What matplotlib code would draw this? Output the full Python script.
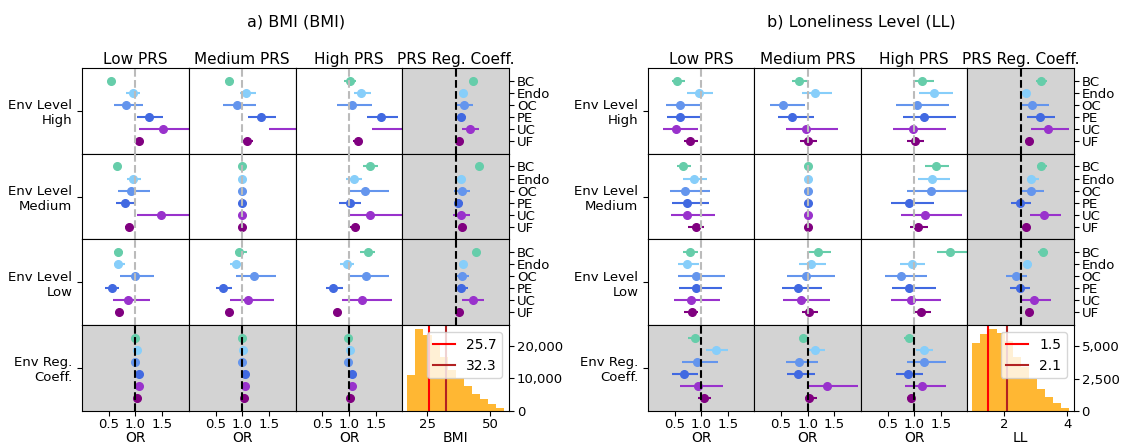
import numpy as np
import matplotlib
matplotlib.use('Agg')
import matplotlib.pyplot as plt
from matplotlib.ticker import MaxNLocator, StrMethodFormatter

categories = ['BC', 'Endo', 'OC', 'PE', 'UC', 'UF']
cat_colors = ['mediumaquamarine', 'lightskyblue', 'cornflowerblue', 'royalblue', 'darkorchid', 'purple']
row_labels = ['Env Level\nHigh', 'Env Level\nMedium', 'Env Level\nLow', 'Env Reg.\nCoeff.']
col_titles = ['Low PRS', 'Medium PRS', 'High PRS', 'PRS Reg. Coeff.']

# odds ratios [env row][prs column][category]; last row has no PRS Reg. Coeff. column
bmi_or = [
    [[0.54, 0.95, 0.82, 1.26, 1.51, 1.06],
     [0.75, 1.07, 0.90, 1.35, 2.30, 1.09],
     [1.01, 1.23, 1.06, 1.60, 2.40, 1.16],
     [1.33, 1.13, 1.16, 1.10, 1.27, 1.06]],
    [[0.66, 0.96, 0.92, 0.80, 1.48, 0.88],
     [1.00, 1.00, 1.00, 1.00, 1.00, 1.00],
     [1.40, 1.09, 1.30, 1.01, 1.40, 1.12],
     [1.43, 1.10, 1.11, 1.05, 1.10, 1.12]],
    [[0.68, 0.67, 0.99, 0.57, 0.86, 0.70],
     [0.94, 0.88, 1.22, 0.64, 1.10, 0.75],
     [1.35, 0.96, 1.31, 0.70, 1.25, 0.78],
     [1.38, 1.14, 1.11, 1.09, 1.32, 1.06]],
    [[0.99, 1.02, 0.99, 1.06, 1.06, 1.03],
     [0.99, 1.02, 0.99, 1.06, 1.06, 1.03],
     [0.98, 1.01, 0.99, 1.06, 1.06, 1.02]],
]
bmi_lo = [
    [[0.49, 0.83, 0.59, 1.02, 1.06, 0.98],
     [0.68, 0.95, 0.64, 1.10, 1.51, 1.01],
     [0.90, 1.09, 0.78, 1.33, 1.44, 1.07],
     [1.28, 1.06, 1.01, 1.03, 1.12, 1.02]],
    [[0.60, 0.85, 0.67, 0.64, 1.03, 0.80],
     [1.00, 1.00, 1.00, 1.00, 1.00, 1.00],
     [1.26, 0.95, 0.98, 0.81, 0.98, 1.02],
     [1.37, 1.04, 0.97, 0.96, 0.95, 1.07]],
    [[0.60, 0.59, 0.72, 0.43, 0.58, 0.64],
     [0.87, 0.77, 0.89, 0.51, 0.77, 0.69],
     [1.21, 0.84, 0.99, 0.56, 0.86, 0.72],
     [1.34, 1.07, 0.99, 1.00, 1.12, 1.01]],
    [[0.97, 1.00, 0.97, 1.04, 1.04, 1.01],
     [0.97, 1.00, 0.97, 1.04, 1.04, 1.01],
     [0.96, 0.99, 0.97, 1.04, 1.04, 1.00]],
]
bmi_hi = [
    [[0.60, 1.09, 1.14, 1.51, 2.60, 1.14],
     [0.84, 1.25, 1.25, 1.63, 3.20, 1.20],
     [1.13, 1.41, 1.44, 1.92, 3.50, 1.25],
     [1.40, 1.20, 1.33, 1.19, 1.43, 1.10]],
    [[0.73, 1.11, 1.27, 0.98, 2.40, 0.95],
     [1.00, 1.00, 1.00, 1.00, 1.00, 1.00],
     [1.55, 1.24, 1.75, 1.22, 2.30, 1.20],
     [1.48, 1.17, 1.26, 1.14, 1.27, 1.17]],
    [[0.77, 0.80, 1.34, 0.70, 1.27, 0.77],
     [1.09, 1.01, 1.64, 0.80, 1.59, 0.81],
     [1.49, 1.10, 1.75, 0.88, 1.80, 0.85],
     [1.43, 1.20, 1.25, 1.22, 1.52, 1.11]],
    [[1.01, 1.04, 1.01, 1.08, 1.08, 1.05],
     [1.01, 1.04, 1.01, 1.08, 1.08, 1.05],
     [1.00, 1.03, 1.01, 1.08, 1.08, 1.04]],
]

ll_or = [
    [[0.55, 0.96, 0.60, 0.60, 0.52, 0.79],
     [0.83, 1.14, 0.54, 0.71, 0.96, 1.00],
     [1.15, 1.38, 1.06, 1.19, 0.98, 1.02],
     [1.38, 1.10, 1.22, 1.36, 1.52, 1.15]],
    [[0.66, 0.86, 0.70, 0.73, 0.73, 0.90],
     [1.00, 1.00, 1.00, 1.00, 1.00, 1.00],
     [1.41, 1.34, 1.32, 0.90, 1.21, 1.08],
     [1.39, 1.20, 1.19, 0.99, 1.43, 1.10]],
    [[0.78, 0.73, 0.90, 0.90, 0.81, 0.82],
     [1.20, 1.07, 0.96, 0.81, 0.87, 1.02],
     [1.67, 0.95, 0.75, 0.91, 0.93, 1.13],
     [1.41, 1.12, 0.91, 0.98, 1.25, 1.16]],
    [[0.89, 1.27, 0.92, 0.67, 0.94, 1.05],
     [0.92, 1.14, 0.83, 0.82, 1.36, 1.03],
     [0.90, 1.19, 1.19, 0.88, 1.15, 0.94]],
]
ll_lo = [
    [[0.45, 0.74, 0.33, 0.36, 0.29, 0.67],
     [0.70, 0.90, 0.30, 0.45, 0.59, 0.86],
     [0.98, 1.09, 0.66, 0.78, 0.60, 0.87],
     [1.28, 1.03, 0.99, 1.11, 1.19, 1.08]],
    [[0.55, 0.66, 0.41, 0.45, 0.43, 0.76],
     [1.00, 1.00, 1.00, 1.00, 1.00, 1.00],
     [1.20, 1.07, 0.86, 0.57, 0.75, 0.92],
     [1.31, 1.11, 0.99, 0.82, 1.17, 1.04]],
    [[0.65, 0.57, 0.57, 0.58, 0.49, 0.68],
     [1.01, 0.84, 0.61, 0.52, 0.53, 0.89],
     [1.43, 0.73, 0.46, 0.58, 0.56, 0.97],
     [1.33, 1.04, 0.73, 0.80, 1.01, 1.11]],
    [[0.75, 1.09, 0.63, 0.46, 0.61, 0.94],
     [0.83, 1.01, 0.59, 0.61, 1.00, 0.94],
     [0.81, 1.03, 0.87, 0.65, 0.83, 0.86]],
]
ll_hi = [
    [[0.69, 1.22, 1.01, 0.99, 0.94, 0.93],
     [1.00, 1.45, 0.94, 1.11, 1.57, 1.17],
     [1.37, 1.72, 1.65, 1.78, 1.60, 1.19],
     [1.50, 1.17, 1.54, 1.65, 1.90, 1.22]],
    [[0.81, 1.10, 1.17, 1.15, 1.25, 1.06],
     [1.00, 1.00, 1.00, 1.00, 1.00, 1.00],
     [1.66, 1.67, 2.05, 1.37, 1.90, 1.25],
     [1.49, 1.34, 1.44, 1.19, 1.75, 1.16]],
    [[0.93, 0.95, 1.44, 1.39, 1.35, 0.94],
     [1.43, 1.35, 1.52, 1.26, 1.41, 1.19],
     [2.05, 1.21, 1.24, 1.40, 1.51, 1.31],
     [1.51, 1.22, 1.11, 1.17, 1.56, 1.22]],
    [[1.02, 1.51, 1.32, 0.93, 1.40, 1.19],
     [1.01, 1.33, 1.20, 1.14, 1.95, 1.17],
     [0.99, 1.36, 1.60, 1.17, 1.59, 1.01]],
]

# exposure distributions
bmi_counts = [11100, 25200, 23400, 21000, 16500, 12500, 10000, 7700, 5300, 3500, 2000, 900]
bmi_range = (17.2, 55.5)
bmi_cutoffs = [25.7, 32.3]
bmi_ticks = [25, 50]
ll_counts = [5290, 5940, 6330, 6020, 5400, 4200, 3400, 2500, 1700, 1100, 600, 200]
ll_range = (1.0, 4.06)
ll_cutoffs = [1.5, 2.1]
ll_ticks = [2, 4]

GRAY = 'lightgray'


def draw_hist(ax, counts, rng, cutoffs, ticks, xlabel):
    edges = np.linspace(rng[0], rng[1], len(counts) + 1)
    ax.bar(edges[:-1], counts, width=np.diff(edges), align='edge',
           color='orange', alpha=0.8, linewidth=0)
    ax.axvline(cutoffs[0], color='red', lw=1.5, label=f'{cutoffs[0]}')
    ax.axvline(cutoffs[1], color='firebrick', lw=1.5, label=f'{cutoffs[1]}')
    ax.legend(loc='upper right', fontsize=10, handlelength=1.6)
    ax.yaxis.tick_right()
    ax.yaxis.set_major_locator(MaxNLocator(3))
    ax.yaxis.set_major_formatter(StrMethodFormatter('{x:,.0f}'))
    ax.set_xticks(ticks)
    ax.set_xlabel(xlabel, fontsize=10, labelpad=0)
    ax.tick_params(labelsize=9.5, pad=2)


def draw_panel(fig, left, right, or_vals, lo_vals, hi_vals, counts, rng, cutoffs, ticks, xlabel, title):
    gs = fig.add_gridspec(4, 4, left=left, right=right, top=0.848, bottom=0.083,
                          wspace=0, hspace=0)
    ypos = np.arange(len(categories))
    for r in range(4):
        for c in range(4):
            ax = fig.add_subplot(gs[r, c])
            if r == 3 and c == 3:
                draw_hist(ax, counts, rng, cutoffs, ticks, xlabel)
                continue
            shaded = (r == 3 or c == 3)
            if shaded:
                ax.set_facecolor(GRAY)
            ors = or_vals[r][c]
            los = lo_vals[r][c]
            his = hi_vals[r][c]
            for i in range(len(categories)):
                ax.errorbar(ors[i], ypos[i],
                            xerr=[[ors[i] - los[i]], [his[i] - ors[i]]],
                            fmt='o', color=cat_colors[i], ms=5.5,
                            elinewidth=1.5, capsize=0, zorder=2)
            ax.axvline(1.0, ls='--', lw=1.5, zorder=3,
                       color='black' if shaded else '#BBBBBB')
            ax.set_xlim(0, 2)
            ax.set_ylim(6.05, -1.05)

            if r == 3:
                ax.set_xticks([0.5, 1.0, 1.5])
                ax.set_xlabel('OR', fontsize=10, labelpad=0)
                ax.tick_params(axis='x', labelsize=9.5, pad=2)
            elif c == 3:
                ax.set_xticks([1.0])
                ax.set_xticklabels([])
            else:
                ax.set_xticks([])

            if c == 0:
                ax.set_yticks([2.5])
                ax.set_yticklabels([row_labels[r]], fontsize=9.5)
            elif c == 3:
                ax.yaxis.tick_right()
                ax.set_yticks(ypos)
                ax.set_yticklabels(categories, fontsize=9.5)
                ax.tick_params(axis='y', pad=2)
            else:
                ax.set_yticks([])

            if r == 0:
                ax.set_title(col_titles[c], fontsize=11, pad=3)

    fig.text((left + right) / 2, 0.952, title, ha='center', va='center', fontsize=11.5)


fig = plt.figure(figsize=(11.24, 4.48), dpi=100)
draw_panel(fig, 0.073, 0.453, bmi_or, bmi_lo, bmi_hi,
           bmi_counts, bmi_range, bmi_cutoffs, bmi_ticks, 'BMI', 'a) BMI (BMI)')
draw_panel(fig, 0.5765, 0.9555, ll_or, ll_lo, ll_hi,
           ll_counts, ll_range, ll_cutoffs, ll_ticks, 'LL', 'b) Loneliness Level (LL)')

fig.savefig('out.png', dpi=100)
